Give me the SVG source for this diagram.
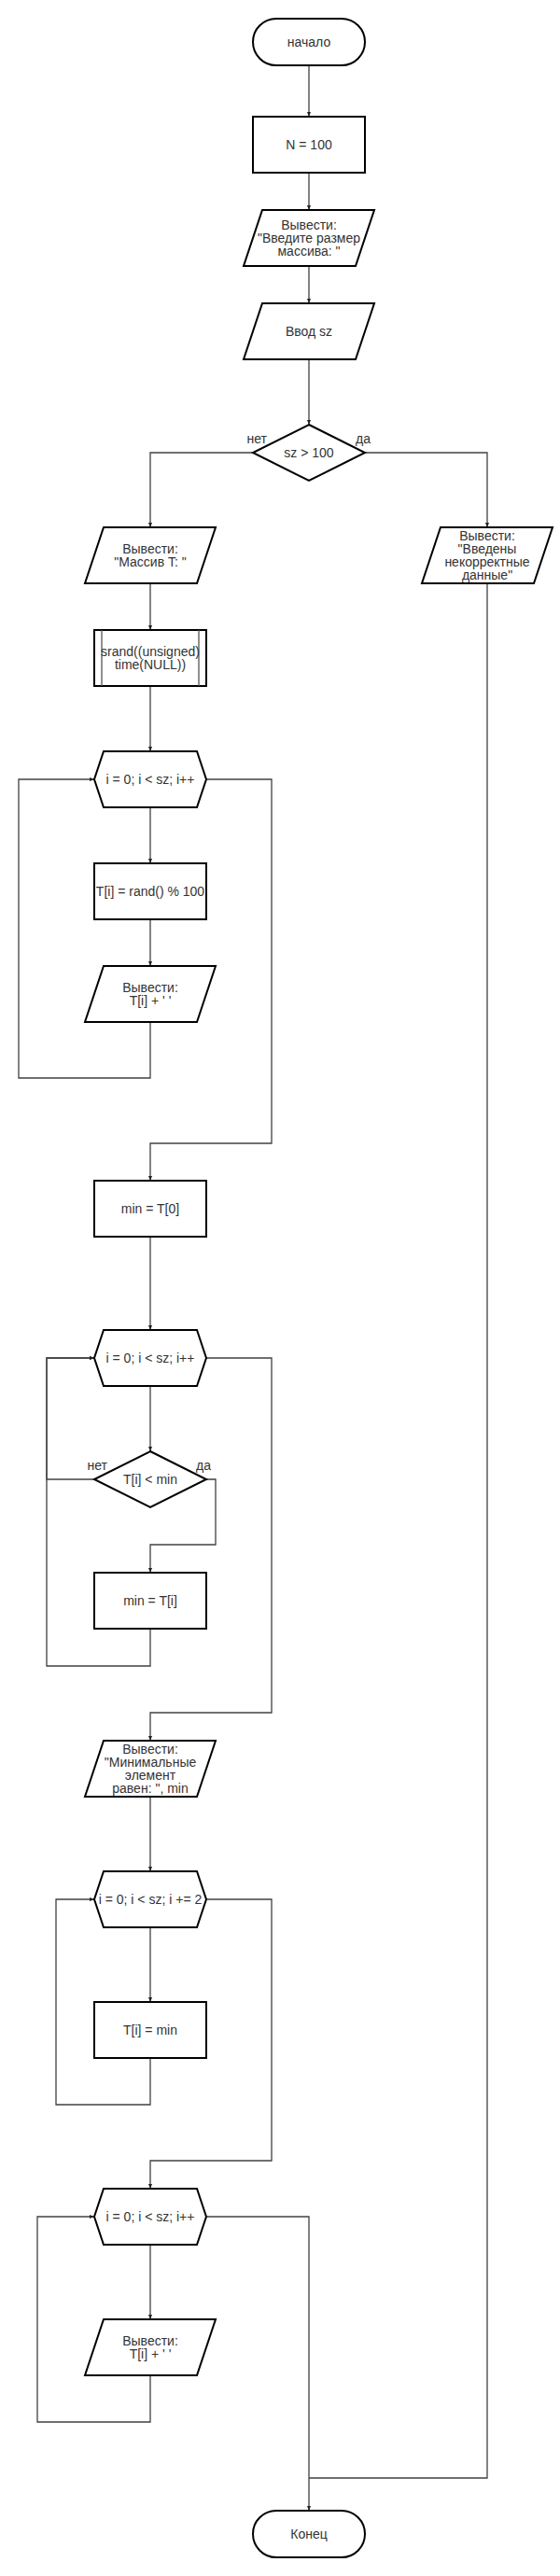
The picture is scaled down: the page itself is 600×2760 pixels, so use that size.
<svg xmlns="http://www.w3.org/2000/svg" width="600" height="2760" viewBox="0 0 600 2760">
<style>
.s{fill:#fff;stroke:#000;stroke-width:2}
.c{fill:none;stroke:#404040;stroke-width:1.3}
.t{font-family:"Liberation Sans",Arial,sans-serif;font-size:14px;fill:#333;text-anchor:middle}
.l{font-family:"Liberation Sans",Arial,sans-serif;font-size:14px;fill:#333}
</style>
<defs>
<marker id="a" viewBox="0 0 10 10" refX="10" refY="5" markerWidth="5" markerHeight="4" markerUnits="userSpaceOnUse" orient="auto" preserveAspectRatio="none">
<path d="M0,0 L10,5 L0,10 z" fill="#222"/>
</marker>
</defs>
<rect width="600" height="2760" fill="#fff"/>
<g id="connectors" marker-end="url(#a)">
<path class="c" d="M331,70 V125"/>
<path class="c" d="M331,185 V225"/>
<path class="c" d="M331,285 V325"/>
<path class="c" d="M331,385 V455"/>
<path class="c" d="M271,485 H161 V565"/>
<path class="c" d="M391,485 H522 V565"/>
<path class="c" d="M522,625 V2655 H331" marker-end="none"/>
<path class="c" d="M161,625 V675"/>
<path class="c" d="M161,735 V805"/>
<path class="c" d="M161,865 V925"/>
<path class="c" d="M161,985 V1035"/>
<path class="c" d="M161,1095 V1155 H20 V835 H101"/>
<path class="c" d="M221,835 H291 V1225 H161 V1265"/>
<path class="c" d="M161,1325 V1425"/>
<path class="c" d="M161,1485 V1555"/>
<path class="c" d="M101,1585 H50 V1455 H101"/>
<path class="c" d="M221,1585 H231 V1655 H161 V1685"/>
<path class="c" d="M161,1745 V1785 H50 V1455 H101"/>
<path class="c" d="M221,1455 H291 V1835 H161 V1865"/>
<path class="c" d="M161,1925 V2005"/>
<path class="c" d="M161,2065 V2145"/>
<path class="c" d="M161,2205 V2255 H60 V2035 H101"/>
<path class="c" d="M221,2035 H291 V2315 H161 V2345"/>
<path class="c" d="M161,2405 V2485"/>
<path class="c" d="M161,2545 V2595 H40 V2375 H101"/>
<path class="c" d="M221,2375 H331 V2690"/>
</g>
<g id="start">
<rect class="s" x="271" y="20" width="120" height="50" rx="25"/>
<text class="t" x="331" y="49.9">начало</text>
</g>
<g id="n100">
<rect class="s" x="271" y="125" width="120" height="60"/>
<text class="t" x="331" y="159.9">N = 100</text>
</g>
<g id="out_prompt">
<path class="s" d="M281,225 L401,225 L381,285 L261,285 Z"/>
<text class="t" x="331" y="245.7">Вывести:</text>
<text class="t" x="331" y="259.9">"Введите размер</text>
<text class="t" x="331" y="274.1">массива: "</text>
</g>
<g id="input_sz">
<path class="s" d="M281,325 L401,325 L381,385 L261,385 Z"/>
<text class="t" x="331" y="359.9">Ввод sz</text>
</g>
<g id="cond_sz">
<path class="s" d="M331,455 L391,485 L331,515 L271,485 Z"/>
<text class="t" x="331" y="489.9">sz &gt; 100</text>
<text class="l" x="286" y="475" text-anchor="end">нет</text>
<text class="l" x="381" y="475">да</text>
</g>
<g id="out_massiv">
<path class="s" d="M111,565 L231,565 L211,625 L91,625 Z"/>
<text class="t" x="161" y="592.8">Вывести:</text>
<text class="t" x="161" y="607">"Массив T: "</text>
</g>
<g id="out_error">
<path class="s" d="M472,565 L592,565 L572,625 L452,625 Z"/>
<text class="t" x="522" y="578.6">Вывести:</text>
<text class="t" x="522" y="592.8">"Введены</text>
<text class="t" x="522" y="607">некорректные</text>
<text class="t" x="522" y="621.2">данные"</text>
</g>
<g id="srand">
<rect class="s" x="101" y="675" width="120" height="60"/>
<path d="M109,675 V735 M213,675 V735" stroke="#555" stroke-width="1.3" fill="none"/>
<text class="t" x="161" y="702.8">srand((unsigned)</text>
<text class="t" x="161" y="717">time(NULL))</text>
</g>
<g id="loop1">
<path class="s" d="M111,805 L211,805 L221,835 L211,865 L111,865 L101,835 Z"/>
<text class="t" x="161" y="839.9">i = 0; i &lt; sz; i++</text>
</g>
<g id="rand">
<rect class="s" x="101" y="925" width="120" height="60"/>
<text class="t" x="161" y="959.9">T[i] = rand() % 100</text>
</g>
<g id="out_t1">
<path class="s" d="M111,1035 L231,1035 L211,1095 L91,1095 Z"/>
<text class="t" x="161" y="1062.8">Вывести:</text>
<text class="t" x="161" y="1077">T[i] + ' '</text>
</g>
<g id="min0">
<rect class="s" x="101" y="1265" width="120" height="60"/>
<text class="t" x="161" y="1299.9">min = T[0]</text>
</g>
<g id="loop2">
<path class="s" d="M111,1425 L211,1425 L221,1455 L211,1485 L111,1485 L101,1455 Z"/>
<text class="t" x="161" y="1459.9">i = 0; i &lt; sz; i++</text>
</g>
<g id="cond_min">
<path class="s" d="M161,1555 L221,1585 L161,1615 L101,1585 Z"/>
<text class="t" x="161" y="1589.9">T[i] &lt; min</text>
<text class="l" x="115" y="1575" text-anchor="end">нет</text>
<text class="l" x="210" y="1575">да</text>
</g>
<g id="mini">
<rect class="s" x="101" y="1685" width="120" height="60"/>
<text class="t" x="161" y="1719.9">min = T[i]</text>
</g>
<g id="out_min">
<path class="s" d="M111,1865 L231,1865 L211,1925 L91,1925 Z"/>
<text class="t" x="161" y="1878.6">Вывести:</text>
<text class="t" x="161" y="1892.8">"Минимальные</text>
<text class="t" x="161" y="1907">элемент</text>
<text class="t" x="161" y="1921.2">равен: ", min</text>
</g>
<g id="loop3">
<path class="s" d="M111,2005 L211,2005 L221,2035 L211,2065 L111,2065 L101,2035 Z"/>
<text class="t" x="161" y="2039.9">i = 0; i &lt; sz; i += 2</text>
</g>
<g id="tmin">
<rect class="s" x="101" y="2145" width="120" height="60"/>
<text class="t" x="161" y="2179.9">T[i] = min</text>
</g>
<g id="loop4">
<path class="s" d="M111,2345 L211,2345 L221,2375 L211,2405 L111,2405 L101,2375 Z"/>
<text class="t" x="161" y="2379.9">i = 0; i &lt; sz; i++</text>
</g>
<g id="out_t2">
<path class="s" d="M111,2485 L231,2485 L211,2545 L91,2545 Z"/>
<text class="t" x="161" y="2512.8">Вывести:</text>
<text class="t" x="161" y="2527">T[i] + ' '</text>
</g>
<g id="end">
<rect class="s" x="271" y="2690" width="120" height="50" rx="25"/>
<text class="t" x="331" y="2719.9">Конец</text>
</g>
</svg>
